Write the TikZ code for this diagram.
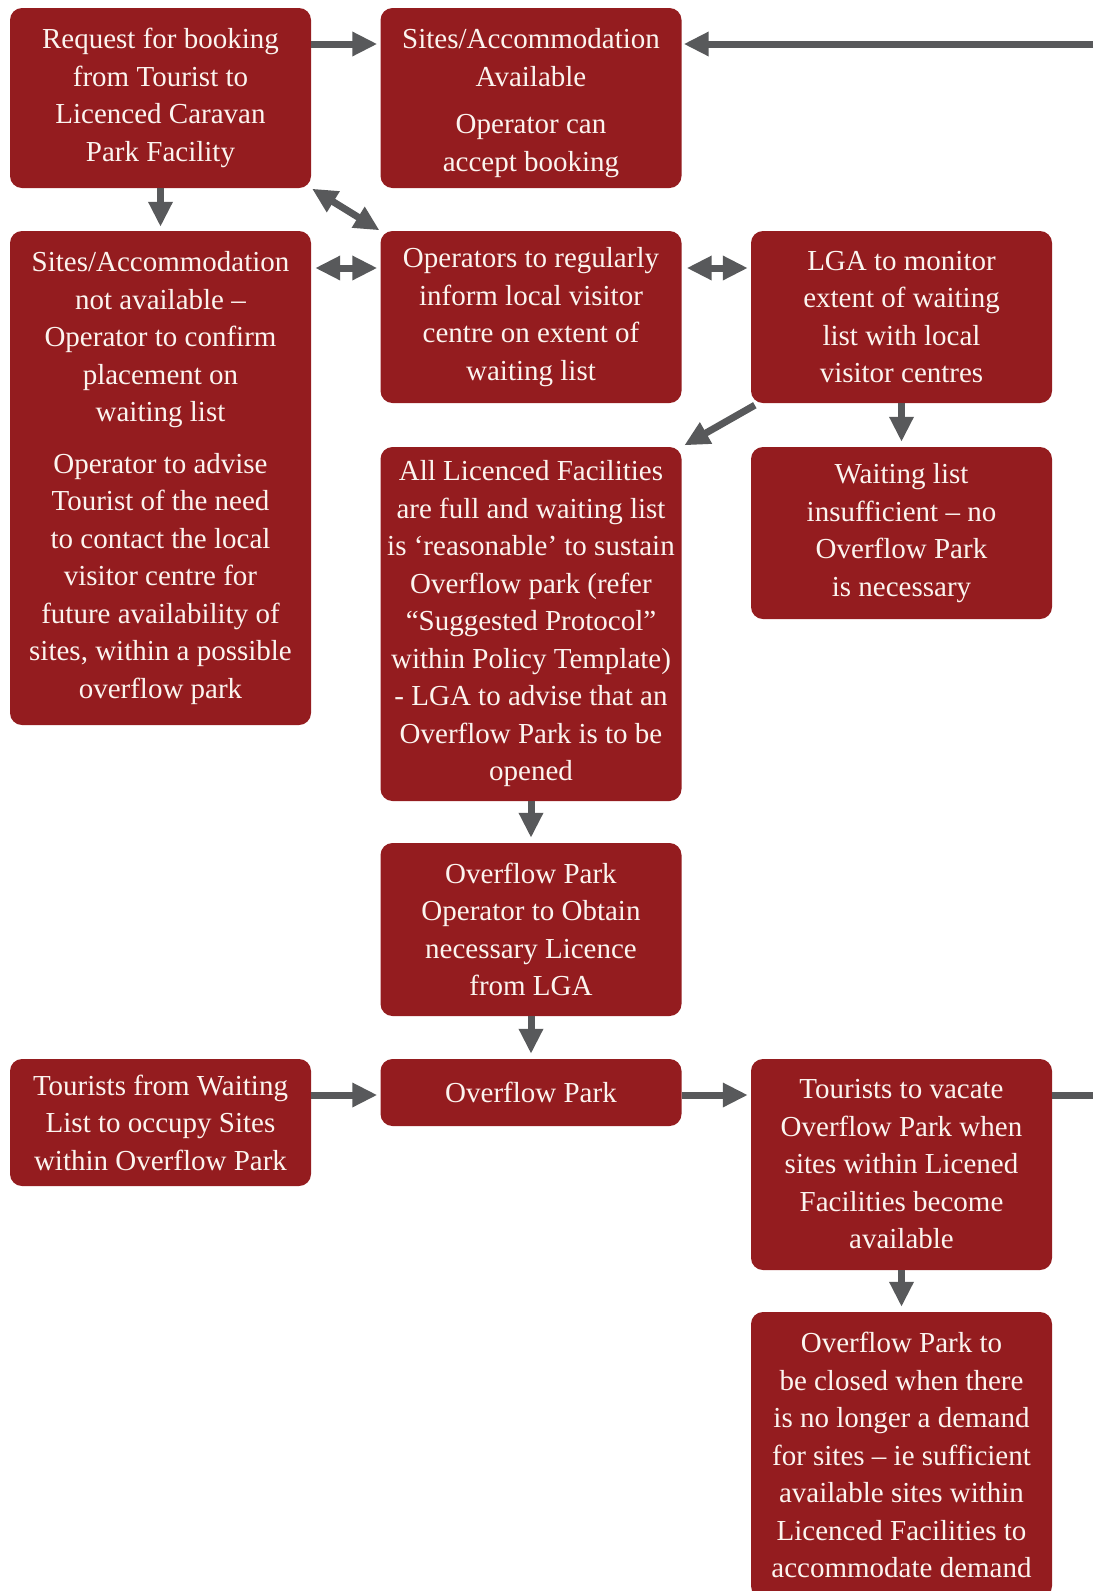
\documentclass[tikz,border=0pt]{standalone}
\usepackage{fontspec}
\setmainfont{Liberation Serif}
\usetikzlibrary{arrows.meta}
\definecolor{boxred}{HTML}{941C1F}
\definecolor{arrgray}{HTML}{58595B}
\definecolor{boxtext}{HTML}{FBF4EF}
\begin{document}
\begin{tikzpicture}[x=1pt,y=-1pt,
  box/.style={fill=boxred, rounded corners=12pt, text=boxtext, align=center, inner sep=0pt,
    minimum width=301pt, font=\fontsize{29}{37.5}\selectfont},
  arr/.style={draw=arrgray, line width=7pt, -{Triangle[length=25pt,width=23pt]}, shorten >=3pt},
  darr/.style={draw=arrgray, line width=7pt, {Triangle[length=25pt,width=23pt]}-{Triangle[length=25pt,width=23pt]}},
  plainline/.style={draw=arrgray, line width=7pt}]
\useasboundingbox (0,0) rectangle (1093,1591);
\clip (0,0) rectangle (1093,1591);
% boxes
\node[box, minimum height=180pt] (A) at (160.5,98) {Request for booking\\from Tourist to\\Licenced Caravan\\Park Facility};
\node[box, minimum height=180pt] (B) at (531,98) {\rule{0pt}{30pt}Sites/Accommodation\\Available\\[10pt]Operator can\\accept booking};
\node[box, minimum height=494pt] (C) at (160.5,478) {Sites/Accommodation\\not available –\\Operator to confirm\\placement on\\waiting list\\[14pt]Operator to advise\\Tourist of the need\\to contact the local\\visitor centre for\\future availability of\\sites, within a possible\\overflow park};
\node[box, minimum height=172pt] (D) at (531,317) {Operators to regularly\\inform local visitor\\centre on extent of\\waiting list};
\node[box, minimum height=172pt] (E) at (901.5,317) {LGA to monitor\\extent of waiting\\list with local\\visitor centres};
\node[box, minimum height=354pt] (F) at (531,624) {All Licenced Facilities\\are full and waiting list\\is ‘reasonable’ to sustain\\Overflow park (refer\\“Suggested Protocol”\\within Policy Template)\\- LGA to advise that an\\Overflow Park is to be\\opened};
\node[box, minimum height=172pt] (G) at (901.5,533) {Waiting list\\insufficient – no\\Overflow Park\\is necessary};
\node[box, minimum height=173pt] (H) at (531,929.5) {Overflow Park\\Operator to Obtain\\necessary Licence\\from LGA};
\node[box, minimum height=127pt] (I) at (160.5,1122.5) {Tourists from Waiting\\List to occupy Sites\\within Overflow Park};
\node[box, minimum height=67pt] (J) at (531,1092.5) {Overflow Park};
\node[box, minimum height=211pt] (K) at (901.5,1164.5) {Tourists to vacate\\Overflow Park when\\sites within Licened\\Facilities become\\available};
\node[box, minimum height=286pt] (L) at (901.5,1455) {Overflow Park to\\be closed when there\\is no longer a demand\\for sites – ie sufficient\\available sites within\\Licenced Facilities to\\accommodate demand};
% free ends
\coordinate (topin) at (1093,44);
\coordinate (rout) at (1093,1095);
% connectors
\draw[arr] (A.east |- 0,44) -- (B.west |- 0,44);
\draw[arr, shorten >=2pt] (topin) -- (B.east |- topin);
\draw[arr, shorten >=4pt] (A.south) -- (C.north);
\draw[darr, shorten <=1pt, shorten >=1pt] (A.south east) -- (D.north west);
\draw[darr, shorten <=4pt, shorten >=3pt] (C.east |- 0,268) -- (D.west |- 0,268);
\draw[darr, shorten <=5pt, shorten >=3pt] (D.east |- 0,268) -- (E.west |- 0,268);
\draw[arr] ([xshift=4pt,yshift=-2pt]E.south west) -- (F.north east);
\draw[arr, shorten >=5pt] (E.south) -- (G.north);
\draw[arr, shorten >=5pt] (F.south) -- (H.north);
\draw[arr, shorten >=5pt] (H.south) -- (J.north);
\draw[arr] (I.east |- 0,1095) -- (J.west |- 0,1095);
\draw[arr] (J.east |- 0,1095) -- (K.west |- 0,1095);
\draw[plainline] (K.east |- rout) -- (rout);
\draw[arr, shorten >=5pt] (K.south) -- (L.north);
\end{tikzpicture}
\end{document}
